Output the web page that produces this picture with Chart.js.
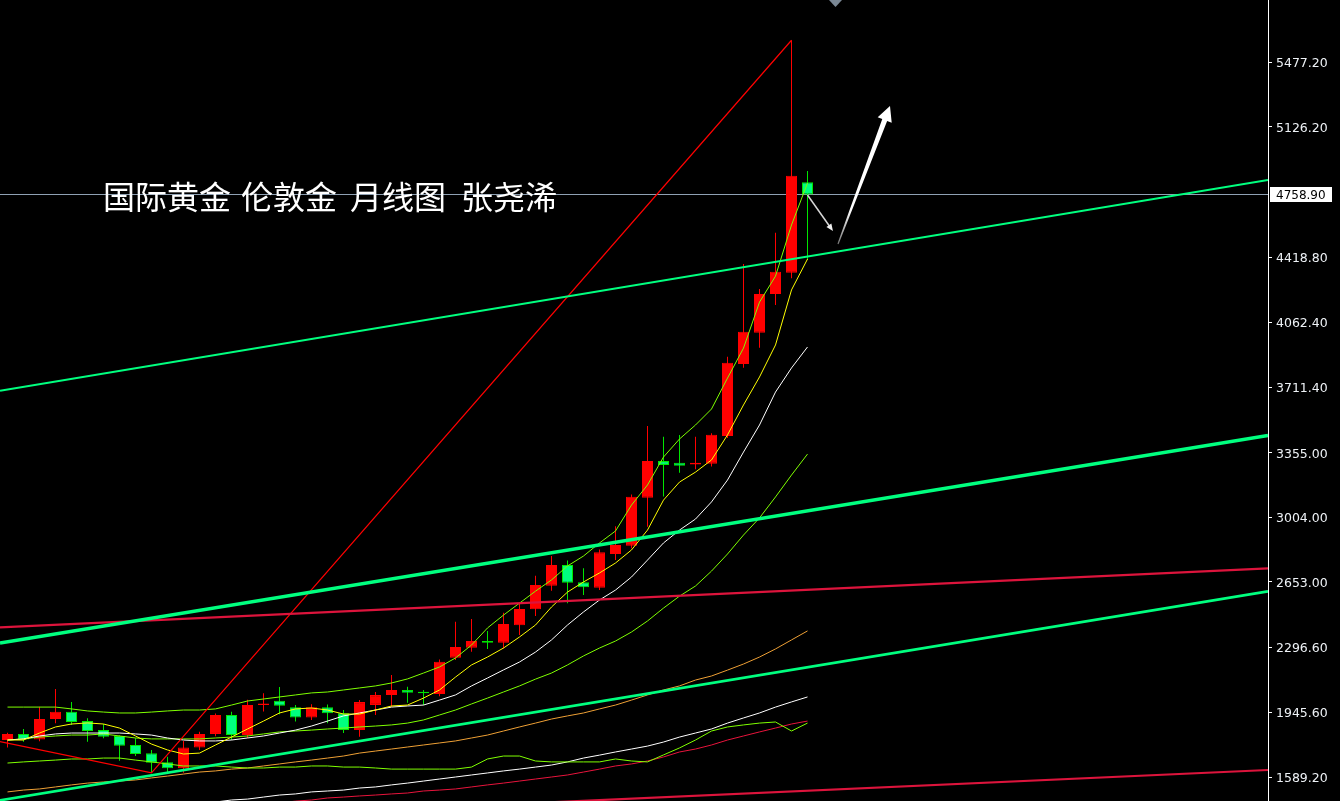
<!DOCTYPE html>
<html>
<head>
<meta charset="utf-8">
<script src="https://cdn.jsdelivr.net/npm/chart.js@4.4.1/dist/chart.umd.min.js"></script>
<style>
html,body{margin:0;padding:0;background:#000;overflow:hidden;}
#wrap{width:1340px;height:801px;position:relative;background:#000;}
canvas{display:block;}
</style>
</head>
<body>
<div id="wrap"><canvas id="c" width="1340" height="801"></canvas></div>
<script>
// ---------- DATA (monthly, Dec 2021 .. Feb 2026) ----------
const months = ['2021-12','2022-01','2022-02','2022-03','2022-04','2022-05','2022-06','2022-07','2022-08','2022-09','2022-10','2022-11','2022-12',
'2023-01','2023-02','2023-03','2023-04','2023-05','2023-06','2023-07','2023-08','2023-09','2023-10','2023-11','2023-12',
'2024-01','2024-02','2024-03','2024-04','2024-05','2024-06','2024-07','2024-08','2024-09','2024-10','2024-11','2024-12',
'2025-01','2025-02','2025-03','2025-04','2025-05','2025-06','2025-07','2025-08','2025-09','2025-10','2025-11','2025-12',
'2026-01','2026-02'];

const open  = [1794,1827,1797,1908,1948,1897,1848,1816,1767,1722,1673,1640,1754,1827,1930,1821,1985,2007,1972,1917,1972,1939,1848,1985,2038,2066,2057,2044,2241,2296,2332,2323,2418,2505,2633,2745,2651,2622,2805,2850,3111,3310,3301,3292,3296,3446,3838,4008,4218,4334,4825];
const high  = [1834,1854,1975,2071,2000,1912,1881,1820,1803,1740,1703,1789,1839,1938,1947,2013,2048,2082,1984,1989,1987,1957,2011,2055,2147,2084,2066,2232,2437,2452,2387,2486,2537,2687,2794,2769,2727,2830,2956,3129,3500,3442,3452,3442,3461,3877,4381,4245,4551,5597,4886];
const low   = [1754,1785,1788,1885,1876,1785,1804,1682,1707,1616,1616,1616,1740,1815,1794,1805,1949,1934,1894,1903,1885,1832,1812,1930,1975,1997,1984,2032,2229,2274,2288,2292,2365,2468,2605,2537,2582,2610,2772,2836,2953,3117,3247,3265,3280,3436,3817,3926,4158,4303,4403];
const close = [1827,1797,1908,1948,1892,1843,1812,1763,1718,1671,1640,1754,1827,1930,1821,1985,1993,1980,1917,1972,1939,1848,2000,2038,2066,2051,2048,2220,2299,2332,2323,2424,2506,2636,2745,2649,2624,2814,2854,3116,3310,3289,3285,3301,3453,3845,4013,4218,4339,4861,4758.9];

const ma5 = [1794,1794,1832,1865,1881,1887,1881,1859,1816,1772,1740,1718,1723,1767,1810,1854,1897,1941,1963,1968,1957,1935,1935,1957,1979,1984,2022,2066,2136,2202,2245,2294,2354,2419,2517,2598,2653,2702,2756,2827,2935,3098,3196,3250,3316,3452,3615,3767,3941,4240,4408];
const ma10 = [1794,1800,1816,1827,1832,1832,1832,1832,1827,1821,1805,1794,1789,1789,1794,1805,1816,1832,1848,1870,1897,1925,1941,1957,1973,1979,1984,2011,2039,2088,2131,2175,2218,2272,2338,2419,2490,2555,2609,2680,2772,2865,2935,2995,3088,3207,3359,3506,3685,3816,3930];
const bollMid = [1794,1800,1810,1816,1821,1821,1827,1816,1805,1800,1800,1800,1800,1805,1810,1816,1827,1838,1843,1848,1854,1859,1865,1870,1876,1886,1903,1930,1957,1990,2022,2055,2088,2125,2158,2202,2251,2294,2332,2381,2441,2511,2576,2631,2712,2805,2908,3001,3115,3234,3348];
const bollUpper = [1973,1973,1973,1973,1963,1952,1946,1941,1941,1946,1952,1957,1957,1963,1984,2006,2017,2028,2039,2050,2055,2066,2077,2088,2104,2126,2158,2191,2240,2310,2403,2473,2538,2603,2664,2740,2794,2865,2930,3071,3180,3332,3430,3506,3593,3761,3924,4174,4315,4593,4821];
const bollLower = [1669,1675,1680,1685,1691,1691,1696,1696,1685,1675,1664,1653,1653,1653,1647,1642,1642,1647,1647,1653,1653,1647,1647,1642,1636,1636,1636,1636,1636,1647,1691,1707,1707,1680,1675,1675,1675,1675,1691,1680,1675,1713,1751,1794,1843,1865,1876,1886,1892,1843,1886];
const ma60 = [1512,1522,1528,1539,1550,1560,1566,1571,1577,1588,1598,1609,1620,1626,1636,1642,1653,1664,1675,1685,1696,1707,1723,1734,1745,1756,1767,1778,1789,1805,1821,1843,1865,1886,1908,1925,1941,1963,1984,2011,2039,2066,2088,2120,2142,2174,2207,2245,2289,2338,2387];
const maLongWhite = [null,null,null,null,null,null,null,null,null,null,null,null,null,1457,1468,1473,1484,1495,1501,1512,1517,1522,1533,1539,1550,1560,1571,1582,1593,1604,1615,1626,1636,1647,1658,1675,1696,1712,1729,1745,1761,1783,1810,1832,1854,1886,1914,1941,1973,2001,2028];
const maLongRed = [null,null,null,null,null,null,null,null,null,null,null,null,null,null,null,null,null,1452,1462,1468,1479,1484,1490,1495,1501,1506,1517,1522,1528,1539,1550,1560,1571,1582,1593,1604,1620,1636,1653,1664,1680,1702,1729,1745,1767,1794,1816,1838,1859,1881,1897];

// drawn trend lines (bar index, price)
const channelTop    = [{x:-0.46875,y:3692},{x:78.78125,y:4838}];
const channelMid    = [{x:-0.46875,y:2321},{x:78.78125,y:3449}];
const channelLow    = [{x:-0.46875,y:1466},{x:78.78125,y:2602}];
const crimsonUpper  = [{x:-0.46875,y:2406},{x:78.78125,y:2727}];
const crimsonLower  = [{x:-0.46875,y:1321},{x:78.78125,y:1631}];
const redSwing      = [{x:-0.46875,y:1785},{x:9,y:1616},{x:49,y:5597}];

const yTicks = [1589.20,1945.60,2296.60,2653.00,3004.00,3355.00,3711.40,4062.40,4418.80,5126.20,5477.20];
const lastPrice = 4758.90;
const titleWords = ['国际黄金','伦敦金','月线图','张尧浠'];
const bigArrow = {from:{x:51.906,y:4490}, to:{x:55.156,y:5240}};
const smallArrow = {from:{x:50.0,y:4756}, to:{x:51.59,y:4560}};
const shiftMarkerIndex = 51.75;

// ---------- CHART ----------
const xMin = -0.46875, xMax = 78.78125;
const yMin = 1462.6, yMax = 5815.8;
const RED = '#ff0000', GREEN_FILL = '#00ff7f', GREEN_EDGE = '#00e600';
const up = months.map((_, i) => close[i] >= open[i]);

const pts = arr => arr.map((v, i) => ({x: i, y: v}));
const lineDs = (data, color, width, order) => ({
  type: 'line', data, borderColor: color, borderWidth: width, pointRadius: 0,
  pointHoverRadius: 0, tension: 0, fill: false, order, spanGaps: false
});

const overlay = {
  id: 'overlay',
  beforeDatasetsDraw(chart) {
    const {ctx, chartArea: a, scales: {y}} = chart;
    const py = Math.round(y.getPixelForValue(lastPrice)) + 0.5;
    ctx.save();
    ctx.strokeStyle = '#8fa1b3'; ctx.lineWidth = 1;
    ctx.beginPath(); ctx.moveTo(a.left, py); ctx.lineTo(a.right, py); ctx.stroke();
    ctx.restore();
  },
  afterDatasetsDraw(chart) {
    const {ctx, chartArea: a, scales: {x, y}} = chart;
    ctx.save();
    // small arrow
    const s0 = {x: x.getPixelForValue(smallArrow.from.x), y: y.getPixelForValue(smallArrow.from.y)};
    const s1 = {x: x.getPixelForValue(smallArrow.to.x), y: y.getPixelForValue(smallArrow.to.y)};
    let dx = s1.x - s0.x, dy = s1.y - s0.y, L = Math.hypot(dx, dy);
    let ux = dx / L, uy = dy / L, nx = -uy, ny = ux;
    ctx.strokeStyle = '#d8d8d8'; ctx.fillStyle = '#f0f0f0'; ctx.lineWidth = 1.5;
    ctx.beginPath(); ctx.moveTo(s0.x, s0.y); ctx.lineTo(s1.x - ux * 4, s1.y - uy * 4); ctx.stroke();
    ctx.beginPath(); ctx.moveTo(s1.x, s1.y);
    ctx.lineTo(s1.x - ux * 7 + nx * 3, s1.y - uy * 7 + ny * 3);
    ctx.lineTo(s1.x - ux * 7 - nx * 3, s1.y - uy * 7 - ny * 3);
    ctx.closePath(); ctx.fill();
    // big arrow
    const b0 = {x: x.getPixelForValue(bigArrow.from.x), y: y.getPixelForValue(bigArrow.from.y)};
    const b1 = {x: x.getPixelForValue(bigArrow.to.x), y: y.getPixelForValue(bigArrow.to.y)};
    dx = b1.x - b0.x; dy = b1.y - b0.y; L = Math.hypot(dx, dy);
    ux = dx / L; uy = dy / L; nx = -uy; ny = ux;
    const hl = 15, hw = 7.5;
    const bx = b1.x - ux * hl, by = b1.y - uy * hl;
    const g = ctx.createLinearGradient(b0.x, b0.y, b1.x, b1.y);
    g.addColorStop(0, '#777777'); g.addColorStop(0.25, '#ffffff'); g.addColorStop(1, '#ffffff');
    ctx.fillStyle = g;
    ctx.beginPath();
    ctx.moveTo(b0.x + nx * 0.6, b0.y + ny * 0.6);
    ctx.lineTo(bx + nx * 2.6, by + ny * 2.6);
    ctx.lineTo(bx + nx * hw, by + ny * hw);
    ctx.lineTo(b1.x, b1.y);
    ctx.lineTo(bx - nx * hw, by - ny * hw);
    ctx.lineTo(bx - nx * 2.6, by - ny * 2.6);
    ctx.lineTo(b0.x - nx * 0.6, b0.y - ny * 0.6);
    ctx.closePath(); ctx.fill();
    // shift marker at top
    const mx = x.getPixelForValue(shiftMarkerIndex);
    ctx.fillStyle = '#7b8895';
    ctx.beginPath(); ctx.moveTo(mx - 6.5, a.top); ctx.lineTo(mx + 6.5, a.top); ctx.lineTo(mx, a.top + 7); ctx.closePath(); ctx.fill();
    // title
    ctx.fillStyle = '#ffffff';
    ctx.font = '32px "Noto Sans CJK SC"';
    ctx.textBaseline = 'alphabetic';
    const wx = [103, 241, 350, 461];
    titleWords.forEach((w, i) => ctx.fillText(w, wx[i], 209));
    ctx.restore();
  },
  afterDraw(chart) {
    const {ctx, chartArea: a, scales: {y}} = chart;
    const py = Math.round(y.getPixelForValue(lastPrice)) + 0.5;
    ctx.save();
    ctx.fillStyle = '#ffffff';
    ctx.fillRect(a.right + 2, py - 7.5, 62, 15);
    ctx.fillStyle = '#000000';
    ctx.font = '12px "DejaVu Sans"';
    ctx.textBaseline = 'middle'; ctx.textAlign = 'left';
    ctx.fillText(lastPrice.toFixed(2), a.right + 8, py + 1.5);
    ctx.restore();
  }
};

new Chart(document.getElementById('c'), {
  type: 'bar',
  data: {
    datasets: [
      lineDs(channelTop, '#00ff7f', 2, 1),
      lineDs(channelMid, '#00ff7f', 3.5, 1),
      lineDs(channelLow, '#00ff7f', 2.6, 1),
      lineDs(crimsonUpper, '#dc143c', 2.2, 1),
      lineDs(crimsonLower, '#dc143c', 2.2, 1),
      lineDs(redSwing, '#ff0000', 1.2, 1),
      lineDs(pts(ma5), '#ffff00', 1, 5),
      lineDs(pts(ma10), '#ffffff', 1, 5),
      lineDs(pts(bollUpper), '#7fff00', 1, 5),
      lineDs(pts(bollMid), '#7fff00', 1, 5),
      lineDs(pts(bollLower), '#7fff00', 1, 5),
      lineDs(pts(ma60), '#eea035', 1, 5),
      lineDs(pts(maLongWhite), '#ffffff', 1, 5),
      lineDs(pts(maLongRed), '#e8143c', 1, 5),
      {
        type: 'bar', order: 15, grouped: false, barThickness: 11, minBarLength: 1,
        data: months.map((_, i) => ({x: i, y: [open[i], close[i]]})),
        backgroundColor: up.map(u => u ? RED : GREEN_FILL),
        borderColor: up.map(u => u ? RED : GREEN_EDGE),
        borderWidth: 1, borderSkipped: false, inflateAmount: 0
      },
      {
        type: 'bar', order: 20, grouped: false, barThickness: 1,
        data: months.map((_, i) => ({x: i, y: [low[i], high[i]]})),
        backgroundColor: up.map(u => u ? RED : GREEN_EDGE),
        borderWidth: 0, inflateAmount: 0
      }
    ]
  },
  options: {
    responsive: false, devicePixelRatio: 1, animation: false,
    layout: {padding: 0},
    plugins: {legend: {display: false}, tooltip: {enabled: false}},
    events: [],
    scales: {
      x: {type: 'linear', display: false, min: xMin, max: xMax, offset: false},
      y: {
        position: 'right', min: yMin, max: yMax, beginAtZero: false,
        afterBuildTicks: s => { s.ticks = yTicks.map(v => ({value: v})); },
        afterFit: s => { s.width = 72; s.paddingTop = 0; s.paddingBottom = 0; },
        ticks: {color: '#eef2f6', font: {family: 'DejaVu Sans', size: 12.5}, padding: 4, autoSkip: false, labelOffset: 1.5,
                callback: v => Number(v).toFixed(2)},
        grid: {display: true, drawOnChartArea: false, drawTicks: true, tickLength: 4, color: '#ffffff', lineWidth: 1},
        border: {display: true, color: '#ffffff', width: 1}
      }
    }
  },
  plugins: [overlay]
});
</script>
</body>
</html>
